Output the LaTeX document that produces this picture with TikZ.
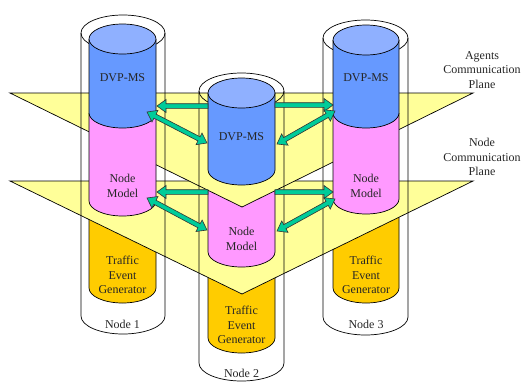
\documentclass[tikz,border=0pt]{standalone}
\usepackage{fontspec}
\setmainfont{Liberation Serif}
\usetikzlibrary{calc}
\definecolor{bluebody}{HTML}{6699FF}
\definecolor{bluetop}{HTML}{8FB0FF}
\definecolor{pinkbody}{HTML}{FF99FF}
\definecolor{orangebody}{HTML}{FFCC00}
\definecolor{planeyellow}{HTML}{FFFF99}
\definecolor{arrgreen}{HTML}{00CC99}
% column section: cx, ytop, ybottom-centre, rx, fill colour
\newcommand\colsec[5]{%
  \fill[#5] ({#1-#4},#2) -- ({#1-#4},#3) arc[start angle=180,end angle=0,x radius=#4,y radius=15] -- ({#1+#4},#2) -- cycle;
  \draw[edgeline] ({#1-#4},#2) -- ({#1-#4},#3) arc[start angle=180,end angle=0,x radius=#4,y radius=15] -- ({#1+#4},#2);
}
% blue top section with lighter lid
\newcommand\bluesec[4]{%
  \colsec{#1}{#2}{#3}{#4}{bluebody}
  \filldraw[edgeline,fill=bluetop] (#1,#2) ellipse[x radius=#4,y radius=15];
}
% outer transparent cylinder: cx, top centre, bottom centre, rx
\newcommand\outercyl[4]{%
  \draw[edgeline] (#1,#2) ellipse[x radius=#4,y radius=18];
  \draw[edgeline] ({#1-#4},#2) -- ({#1-#4},#3) arc[start angle=180,end angle=0,x radius=#4,y radius=18] -- ({#1+#4},#2);
}
% double-headed block arrow between two named coordinates
\newcommand\dblarrow[2]{%
  \filldraw[blockarrow] (#1)
   -- ($(#1)!9pt!(#2)!6.5pt!90:(#2)$) -- ($(#1)!9pt!(#2)!2.3pt!90:(#2)$)
   -- ($(#2)!9pt!(#1)!2.3pt!-90:(#1)$) -- ($(#2)!9pt!(#1)!6.5pt!-90:(#1)$)
   -- (#2)
   -- ($(#2)!9pt!(#1)!6.5pt!90:(#1)$) -- ($(#2)!9pt!(#1)!2.3pt!90:(#1)$)
   -- ($(#1)!9pt!(#2)!2.3pt!-90:(#2)$) -- ($(#1)!9pt!(#2)!6.5pt!-90:(#2)$)
   -- cycle;
}
% single-headed block arrow from #1 to #2
\newcommand\sglarrow[2]{%
  \filldraw[blockarrow] ($(#1)!2.3pt!90:(#2)$)
   -- ($(#2)!9pt!(#1)!2.3pt!-90:(#1)$) -- ($(#2)!9pt!(#1)!6.5pt!-90:(#1)$)
   -- (#2)
   -- ($(#2)!9pt!(#1)!6.5pt!90:(#1)$) -- ($(#2)!9pt!(#1)!2.3pt!90:(#1)$)
   -- ($(#1)!2.3pt!-90:(#2)$) -- cycle;
}
\begin{document}
\begin{tikzpicture}[x=1pt,y=-1pt,
  edgeline/.style={draw=black,line width=0.7pt},
  planestyle/.style={fill=planeyellow,draw=black,line width=0.7pt,line join=miter},
  blockarrow/.style={fill=arrgreen,draw=black!80,line width=0.6pt,line join=miter},
  txt/.style={font=\fontsize{12}{14.5}\selectfont,align=center,inner sep=0pt,text=black!85}]
\useasboundingbox (0,0) rectangle (521,383);

% orange traffic event generator sections
\colsec{122.5}{201}{288}{33.5}{orangebody}
\colsec{366}{199}{288}{33}{orangebody}
\colsec{241.5}{252}{338}{33.5}{orangebody}

% node communication plane
\filldraw[planestyle] (10,181) -- (473,181) -- (242,294) -- cycle;

% node 2 node model
\colsec{241.5}{170}{252}{33.5}{pinkbody}

% agents communication plane
\filldraw[planestyle] (10,93) -- (473,93) -- (242,207) -- cycle;

% node models of nodes 1 and 3
\colsec{122.5}{113}{201}{33.5}{pinkbody}
\colsec{366}{113}{199}{33}{pinkbody}

% outer node cylinders
\outercyl{123}{33}{316}{42}
\outercyl{365.5}{38}{317}{42.5}
\outercyl{241.5}{91}{363}{42.5}

% DVP-MS sections
\bluesec{122.5}{39}{113}{33.5}
\bluesec{366}{40}{113}{33}
\bluesec{241.5}{93}{170}{33.5}

% arrow end points
\coordinate (uhl0) at (208,106);
\coordinate (uhl1) at (157,106);
\coordinate (uhr0) at (275,105);
\coordinate (uhr1) at (333,105);
\coordinate (udl0) at (147,112);
\coordinate (udl1) at (207,143);
\coordinate (udr0) at (277,144);
\coordinate (udr1) at (335,111);
\coordinate (lhl0) at (208,192);
\coordinate (lhl1) at (157,192);
\coordinate (lhr0) at (275,192);
\coordinate (lhr1) at (333,192);
\coordinate (ldl0) at (147,198);
\coordinate (ldl1) at (207,230);
\coordinate (ldr0) at (277,231);
\coordinate (ldr1) at (335,199);

\sglarrow{uhl0}{uhl1}
\sglarrow{uhr0}{uhr1}
\dblarrow{udl0}{udl1}
\dblarrow{udr0}{udr1}
\sglarrow{lhl0}{lhl1}
\sglarrow{lhr0}{lhr1}
\dblarrow{ldl0}{ldl1}
\dblarrow{ldr0}{ldr1}

% texts
\node[txt] (dvp1) at (122.5,78) {DVP-MS};
\node[txt] (dvp3) at (366,78) {DVP-MS};
\node[txt] (dvp2) at (241.5,137) {DVP-MS};
\node[txt] (nm1) at (122.5,186) {Node\\Model};
\node[txt] (nm3) at (366,186) {Node\\Model};
\node[txt] (nm2) at (241.5,239) {Node\\Model};
\node[txt] (teg1) at (122.5,275) {Traffic\\Event\\Generator};
\node[txt] (teg3) at (366,275) {Traffic\\Event\\Generator};
\node[txt] (teg2) at (241.5,325) {Traffic\\Event\\Generator};
\node[txt] (n1) at (122.5,324) {Node 1};
\node[txt] (n3) at (366,324) {Node 3};
\node[txt] (n2) at (241.5,373) {Node 2};
\node[txt] (acp) at (482,70) {Agents\\Communication\\Plane};
\node[txt] (ncp) at (482,157) {Node\\Communication\\Plane};
\end{tikzpicture}
\end{document}
